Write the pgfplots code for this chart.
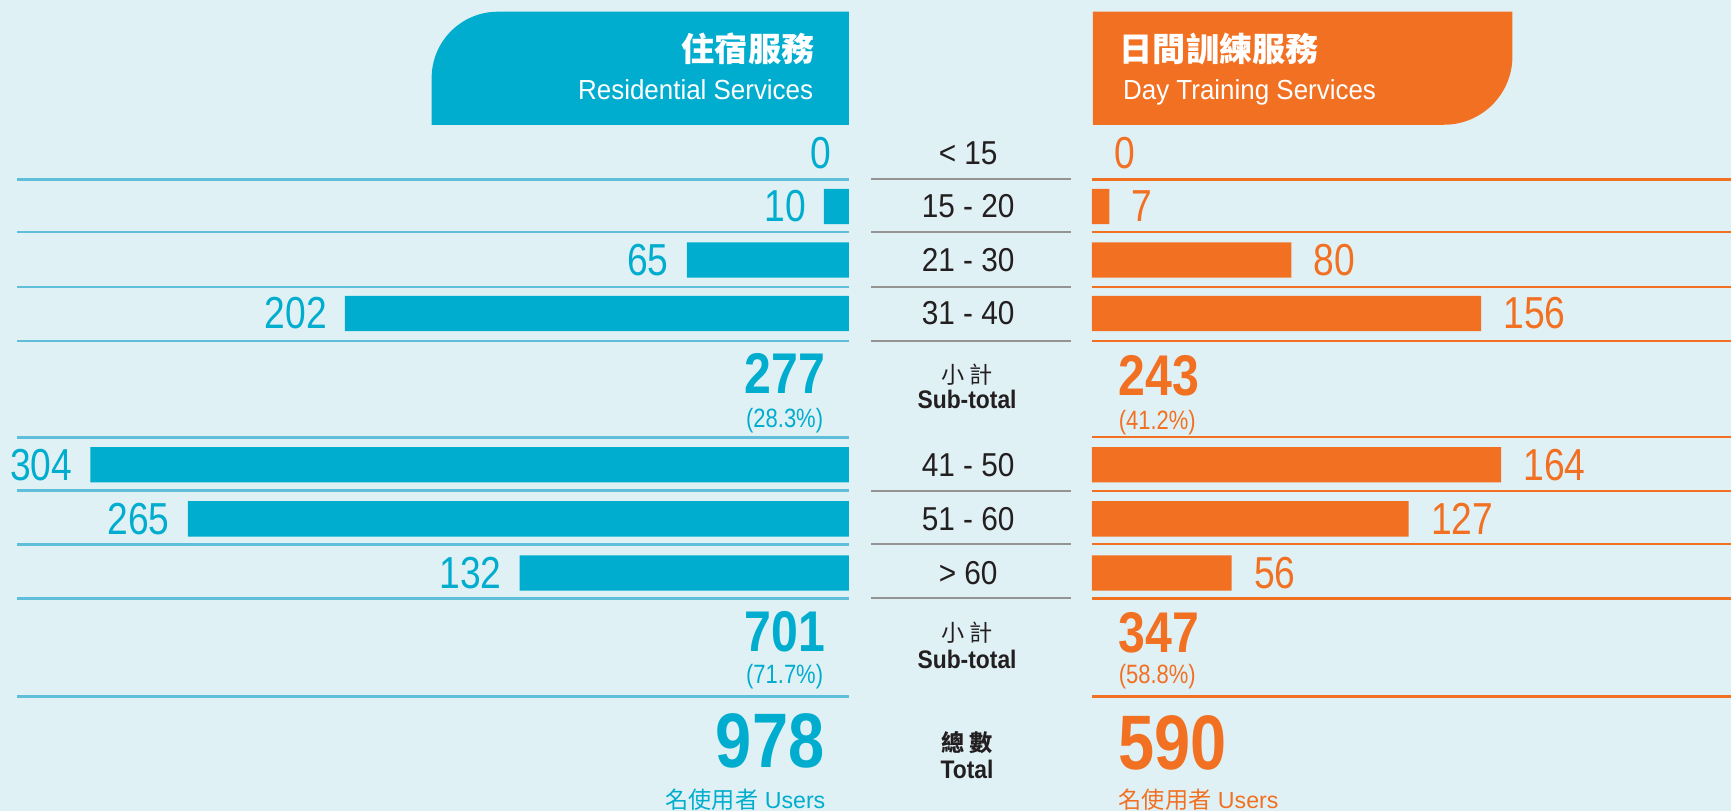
\documentclass[border=0pt]{standalone}
\usepackage{pgfplots}
\pgfplotsset{compat=1.18}
\usepackage{pgfplotstable}
\usepackage{fontspec}
\setmainfont{Liberation Sans}
\newfontfamily\cjk{Noto Sans CJK TC}
\newfontfamily\valfont[FakeStretch=0.83]{Liberation Sans}
\newfontfamily\bigfont[FakeStretch=0.84]{Liberation Sans}
\newfontfamily\hdfont[FakeStretch=0.94]{Liberation Sans}
\newfontfamily\ctrfont[FakeStretch=0.9]{Liberation Sans}

\definecolor{bg}{RGB}{224,241,245}
\definecolor{resblue}{RGB}{0,173,206}
\definecolor{dayorange}{RGB}{242,112,34}
\definecolor{lineblue}{RGB}{95,190,217}
\definecolor{txtdark}{RGB}{35,31,32}

% value, row position (rows counted downwards in picture units)
\pgfplotstableread{
val ypos
0   139
10  187
65  235.5
202 284
304 421
265 470
132 519
}\residential

\pgfplotstableread{
val ypos
0   139
7   187
80  235.5
156 284
164 421
127 470
56  519
}\daytraining

\pgfplotsset{
  barbase/.style={
    scale only axis, height=367.5pt,
    ymin=0, ymax=735, y dir=reverse,
    hide axis, clip=false,
    xbar, bar width=16pt,
    point meta=x,
    /pgf/number format/assume math mode=true,
  },
}

\begin{document}
\begin{tikzpicture}
\useasboundingbox (0,0) rectangle (784pt,-367.5pt);
\clip (0,0) rectangle (784pt,-367.5pt);
\fill[bg] (0,0) rectangle (784pt,-367.5pt);

% Residential services (bars grow to the left)
\begin{axis}[barbase, at={(0pt,0pt)}, anchor=north west,
    width=384.5pt, x dir=reverse, xmin=0, xmax=340.27,
    every node near coord/.append style={font=\valfont\fontsize{20.3}{22}\selectfont,
      text=resblue, anchor=east, xshift=-8pt, inner sep=0pt}]
\addplot[fill=resblue, draw=none, bar shift=0pt,
    x filter/.expression={x==0 ? nan : x}] table[x=val, y=ypos] {\residential};
\addplot[fill=none, draw=none, bar shift=0pt, nodes near coords] table[x=val, y=ypos] {\residential};
\end{axis}

% Day training services (bars grow to the right)
\begin{axis}[barbase, at={(494.5pt,0pt)}, anchor=north west,
    width=289.5pt, xmin=0, xmax=256.19,
    every node near coord/.append style={font=\valfont\fontsize{20.3}{22}\selectfont,
      text=dayorange, anchor=west, xshift=10pt, inner sep=0pt}]
\addplot[fill=dayorange, draw=none, bar shift=0pt,
    x filter/.expression={x==0 ? nan : x}] table[x=val, y=ypos] {\daytraining};
\addplot[fill=none, draw=none, bar shift=0pt, nodes near coords] table[x=val, y=ypos] {\daytraining};
\end{axis}

\begin{scope}[x=0.5pt, y=-0.5pt, every node/.style={inner sep=0pt}]
  % header boxes
  \fill[resblue] (391,113) [rounded corners=30pt] -- (391,10.6) [sharp corners] -- (769,10.6) -- (769,113) -- cycle;
  \fill[dayorange] (990,10.6) -- (1370,10.6) [rounded corners=31pt] -- (1370,113) [sharp corners] -- (990,113) -- cycle;
  \node[anchor=east, text=white] at (738,44) {\cjk\bfseries\fontsize{15}{17}\selectfont 住宿服務};
  \node[anchor=base east, text=white] at (737,90.5) {\hdfont\fontsize{12.5}{14}\selectfont Residential Services};
  \node[anchor=west, text=white] at (1014,44) {\cjk\bfseries\fontsize{15}{17}\selectfont 日間訓練服務};
  \node[anchor=base west, text=white] at (1017,90.5) {\hdfont\fontsize{12.5}{14}\selectfont Day Training Services};

  % row rules
  \foreach \y in {162.5,210,260,309,396,444.5,493,542,631} {
    \draw[lineblue, line width=1.2pt] (15.7,\y) -- (769,\y);
    \draw[dayorange, line width=1.1pt] (989,\y) -- (1568,\y);
  }
  \foreach \y in {162.5,210,260,309,444.5,493,542}
    \draw[black!42, line width=0.9pt] (789,\y) -- (970,\y);

  % age groups
  \foreach \lab/\y in {{< 15}/139, {15 - 20}/187, {21 - 30}/235.5, {31 - 40}/284,
                       {41 - 50}/421, {51 - 60}/470, {> 60}/519}
    \node[text=txtdark, font=\ctrfont\fontsize{15}{17}\selectfont] at (877,\y) {\lab};

  % centre captions
  \node[text=txtdark] at (876,339) {\cjk\fontsize{10.5}{12}\selectfont 小\hspace{2.5pt}計};
  \node[text=txtdark] at (876,362) {\ctrfont\bfseries\fontsize{11.5}{13}\selectfont Sub-total};
  \node[text=txtdark] at (876,573) {\cjk\fontsize{10.5}{12}\selectfont 小\hspace{2.5pt}計};
  \node[text=txtdark] at (876,597) {\ctrfont\bfseries\fontsize{11.5}{13}\selectfont Sub-total};
  \node[text=txtdark] at (876,673) {\cjk\bfseries\fontsize{10.5}{12}\selectfont 總\hspace{2.5pt}數};
  \node[text=txtdark] at (876,697) {\ctrfont\bfseries\fontsize{11.5}{13}\selectfont Total};

  % sub-totals and totals, residential
  \node[anchor=east, text=resblue] at (748,338) {\bigfont\bfseries\fontsize{26}{28}\selectfont 277};
  \node[anchor=east, text=resblue] at (746,381) {\valfont\fontsize{12}{14}\selectfont (28.3\%)};
  \node[anchor=east, text=resblue] at (748,572) {\bigfont\bfseries\fontsize{26}{28}\selectfont 701};
  \node[anchor=east, text=resblue] at (746,613) {\valfont\fontsize{12}{14}\selectfont (71.7\%)};
  \node[anchor=east, text=resblue] at (747,671) {\bigfont\bfseries\fontsize{35}{38}\selectfont 978};
  \node[anchor=east, text=resblue] at (748,724) {\fontsize{10.5}{12}\selectfont{\cjk 名使用者} Users};

  % sub-totals and totals, day training
  \node[anchor=west, text=dayorange] at (1013,340) {\bigfont\bfseries\fontsize{26}{28}\selectfont 243};
  \node[anchor=west, text=dayorange] at (1013,383) {\valfont\fontsize{12}{14}\selectfont (41.2\%)};
  \node[anchor=west, text=dayorange] at (1013,573) {\bigfont\bfseries\fontsize{26}{28}\selectfont 347};
  \node[anchor=west, text=dayorange] at (1013,613) {\valfont\fontsize{12}{14}\selectfont (58.8\%)};
  \node[anchor=west, text=dayorange] at (1013,673) {\bigfont\bfseries\fontsize{35}{38}\selectfont 590};
  \node[anchor=west, text=dayorange] at (1013,724) {\fontsize{10.5}{12}\selectfont{\cjk 名使用者} Users};
\end{scope}
\end{tikzpicture}
\end{document}
